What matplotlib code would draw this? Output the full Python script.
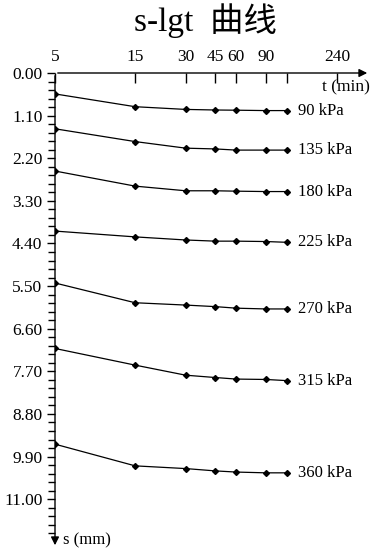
import numpy as np
import matplotlib
matplotlib.use("Agg")
import matplotlib.pyplot as plt
from matplotlib.ticker import FixedLocator, NullFormatter

# ---------------- data ----------------
t_min = [5, 15, 30, 45, 60, 90, 120]
pressures = ["90 kPa", "135 kPa", "180 kPa", "225 kPa", "270 kPa", "315 kPa", "360 kPa"]
s_90 = [0.54, 0.87, 0.94, 0.955, 0.96, 0.97, 0.97]
s_135 = [1.44, 1.77, 1.94, 1.96, 1.99, 1.99, 1.99]
s_180 = [2.53, 2.92, 3.04, 3.04, 3.05, 3.06, 3.06]
s_225 = [4.08, 4.23, 4.31, 4.34, 4.34, 4.35, 4.37]
s_270 = [5.42, 5.93, 5.99, 6.03, 6.07, 6.09, 6.09]
s_315 = [7.11, 7.54, 7.80, 7.86, 7.90, 7.91, 7.94]
s_360 = [9.58, 10.14, 10.21, 10.27, 10.30, 10.32, 10.32]
settlements = [s_90, s_135, s_180, s_225, s_270, s_315, s_360]

x_ticks = [5, 15, 30, 45, 60, 90, 120, 240]
x_ticklabels = ["5", "15", "30", "45", "60", "90", "", "240"]
y_major = [0.0, 1.1, 2.2, 3.3, 4.4, 5.5, 6.6, 7.7, 8.8, 9.9, 11.0]
y_minor_step = 0.22

serif = "Liberation Serif"

fig = plt.figure(figsize=(3.72, 5.5), dpi=100)
ax = fig.add_axes([55 / 372, 2 / 550, 315 / 372, 475 / 550])

for s_vals, label in zip(settlements, pressures):
    ax.plot(t_min, s_vals, color="black", lw=0.9, marker="D", ms=3, mfc="black", mec="black")
    ax.annotate(label, xy=(t_min[-1], s_vals[-1]), xytext=(8, 0), textcoords="offset points",
                va="center", ha="left", fontsize=12, family=serif)

ax.set_xscale("log")
ax.set_xlim(5, 375)
ax.set_ylim(12.26, 0)

for sp in ax.spines.values():
    sp.set_visible(False)

# axis lines with arrow heads
ax.annotate("", xy=(1.0, 1.0), xytext=(0, 1.0), xycoords="axes fraction",
            arrowprops=dict(arrowstyle="-|>", lw=1, color="black", mutation_scale=12))
ax.annotate("", xy=(0, 0.0), xytext=(0, 1.0), xycoords="axes fraction",
            arrowprops=dict(arrowstyle="-|>", lw=1, color="black", mutation_scale=12))

# x ticks on top, pointing down
ax.xaxis.set_ticks_position("top")
ax.xaxis.set_major_locator(FixedLocator(x_ticks))
ax.xaxis.set_minor_locator(FixedLocator([]))
ax.xaxis.set_minor_formatter(NullFormatter())
ax.set_xticklabels(x_ticklabels, family=serif, fontsize=12.5)
ax.tick_params(axis="x", which="major", direction="in", length=7, width=1, pad=6)

# y ticks on left
ax.yaxis.set_major_locator(FixedLocator(y_major))
ax.yaxis.set_minor_locator(FixedLocator(np.arange(0, 12.1, y_minor_step)))
ax.set_yticklabels([f"{v:.2f}" for v in y_major], family=serif, fontsize=12.5)
ax.tick_params(axis="y", which="major", direction="out", length=6, width=1, pad=3)
ax.tick_params(axis="y", which="minor", direction="out", length=5, width=1)

ax.text(1.0, 0.987, "t (min)", transform=ax.transAxes, ha="right", va="top",
        fontsize=12.5, family=serif)
ax.text(0.025, 0.0, "s (mm)", transform=ax.transAxes, ha="left", va="bottom",
        fontsize=12, family=serif)

fig.text(205 / 372, 1 - 21 / 550, "s-lgt  曲线", ha="center", va="center",
         fontsize=24, family=[serif, "Noto Sans CJK SC"])

fig.savefig("out.png", dpi=100)
